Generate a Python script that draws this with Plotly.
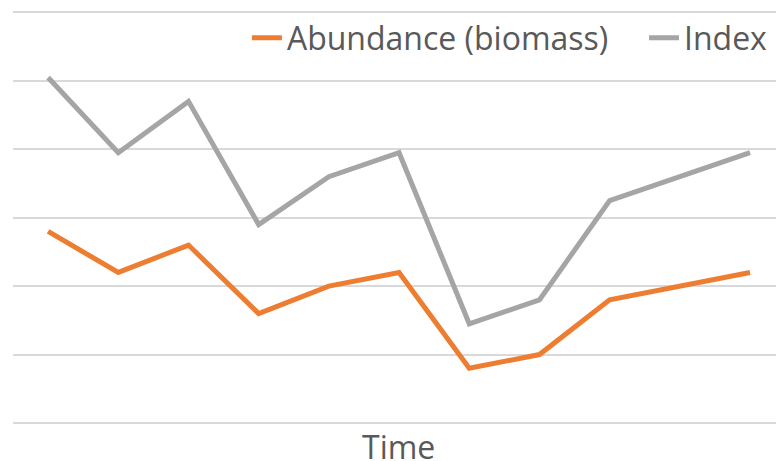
#!/usr/bin/env python3
'''
abundance vs index over time, two lines, no value labels.
'''
import plotly.graph_objects as go

OUT_HTML = 'out.html'

# time steps (category axis, no tick labels shown)
time_steps = list(range(1, 12))
# values, in gridline units
abundance = [2.8, 2.2, 2.6, 1.6, 2.0, 2.2, 0.8, 1.0, 1.8, 2.0, 2.2]
index_vals = [5.05, 3.95, 4.7, 2.9, 3.6, 3.95, 1.45, 1.8, 3.25, 3.6, 3.95]
series_names = ['Abundance (biomass)', 'Index']
x_title = 'Time'

ORANGE = '#ED7D31'
GREY = '#A5A5A5'
TEXT = '#595959'
GRID = '#D9D9D9'
FONT = 'Open Sans'


def main():
    fig = go.Figure()
    # each series gets its own legend so the two entries can be spaced like the original
    fig.add_trace(go.Scatter(x=time_steps, y=abundance, name=series_names[0],
                             mode='lines', line=dict(color=ORANGE, width=5),
                             legend='legend'))
    fig.add_trace(go.Scatter(x=time_steps, y=index_vals, name=series_names[1],
                             mode='lines', line=dict(color=GREY, width=5),
                             legend='legend2'))

    legend_style = dict(orientation='h', y=0.93, yanchor='middle', xanchor='left',
                        bgcolor='rgba(0,0,0,0)', font=dict(size=32, color=TEXT),
                        itemwidth=30)
    fig.update_layout(
        width=776, height=461,
        margin=dict(l=13, r=0, t=9, b=38),
        plot_bgcolor='white', paper_bgcolor='white',
        font=dict(family=FONT, color=TEXT, size=32),
        showlegend=True,
        legend=dict(x=0.3066, **legend_style),
        legend2=dict(x=0.827, **legend_style),
    )
    fig.add_annotation(text=x_title, xref='paper', yref='paper', x=0.505, y=0,
                       xanchor='center', yanchor='middle', yshift=-23,
                       showarrow=False, font=dict(size=32, color=TEXT))
    # category positions: first point half a step in from the left edge
    fig.update_xaxes(range=[0.5, 11.37], showgrid=False, showticklabels=False,
                     zeroline=False, showline=False, ticks='', automargin=False)
    fig.update_yaxes(range=[0, 6.05], dtick=1, showgrid=True, gridcolor=GRID,
                     gridwidth=1.5, showticklabels=False, zeroline=True,
                     zerolinecolor=GRID, zerolinewidth=1.5, ticks='', automargin=False)

    # page body has a default 8px margin; drop it so the figure sits at 0,0
    fig.write_html(OUT_HTML, config={'displayModeBar': False},
                   post_script="document.body.style.margin='0';")
    print('figure saved at {}'.format(OUT_HTML))


if __name__ == '__main__':
    main()
